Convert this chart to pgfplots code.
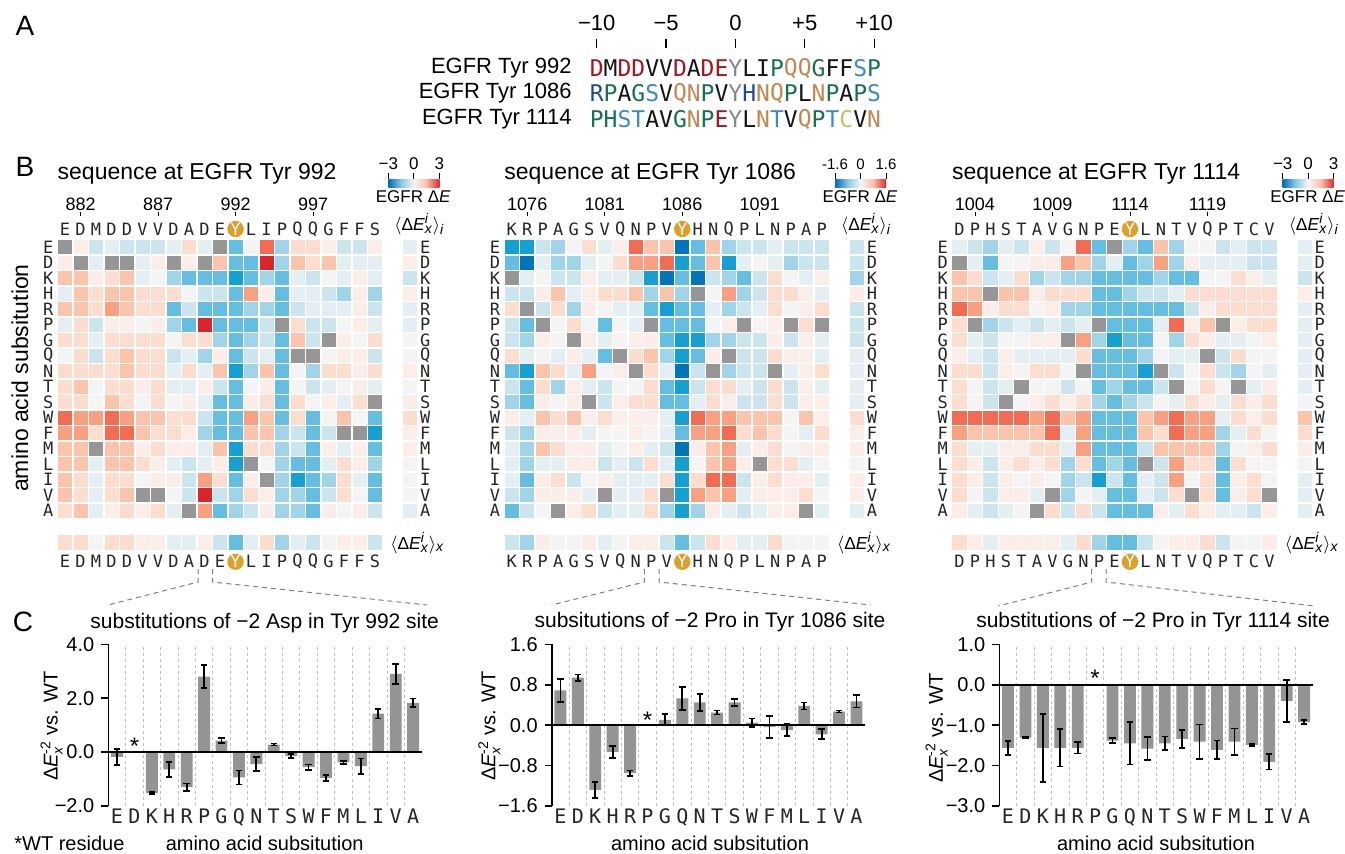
\documentclass[border=0pt]{standalone}
\usepackage{fontspec}
\setmainfont{Liberation Sans}
\newfontfamily\mono{DejaVu Sans Mono}
\usepackage{pgfplots}
\pgfplotsset{compat=1.18}

\definecolor{cbA}{RGB}{0,117,185}
\definecolor{cbB}{RGB}{20,160,210}
\definecolor{cbC}{RGB}{100,190,225}
\definecolor{cbD}{RGB}{160,212,232}
\definecolor{cbE}{RGB}{203,229,239}
\definecolor{cbF}{RGB}{228,239,243}
\definecolor{cN}{RGB}{244,244,244}
\definecolor{crf}{RGB}{252,237,232}
\definecolor{cre}{RGB}{253,221,205}
\definecolor{crd}{RGB}{252,196,170}
\definecolor{crc}{RGB}{249,160,128}
\definecolor{crb}{RGB}{243,108,82}
\definecolor{cra}{RGB}{218,38,42}
\definecolor{cX}{RGB}{150,150,150}
\definecolor{yor}{RGB}{224,158,38}
\definecolor{barg}{RGB}{148,148,148}
\definecolor{sR}{RGB}{172,18,30}
\definecolor{sK}{RGB}{20,20,20}
\definecolor{sY}{RGB}{135,135,135}
\definecolor{sG}{RGB}{20,115,75}
\definecolor{sT}{RGB}{195,135,80}
\definecolor{sS}{RGB}{55,140,195}
\definecolor{sB}{RGB}{28,75,150}
\definecolor{sC}{RGB}{200,190,100}

\pgfdeclarehorizontalshading{egfrbar}{100bp}{rgb(0bp)=(0,0.43,0.72); rgb(25bp)=(0,0.43,0.72); rgb(38bp)=(0.55,0.80,0.90); rgb(50bp)=(0.96,0.96,0.96); rgb(62bp)=(0.99,0.76,0.66); rgb(75bp)=(0.88,0.16,0.17); rgb(100bp)=(0.88,0.16,0.17)}

\pgfplotsset{
 hm/.style={scatter, only marks, mark=square*, mark size=3.3pt, point meta=explicit symbolic,
   scatter/classes={A={draw=cbA,fill=cbA},B={draw=cbB,fill=cbB},C={draw=cbC,fill=cbC},D={draw=cbD,fill=cbD},E={draw=cbE,fill=cbE},F={draw=cbF,fill=cbF},N={draw=cN,fill=cN},f={draw=crf,fill=crf},e={draw=cre,fill=cre},d={draw=crd,fill=crd},c={draw=crc,fill=crc},b={draw=crb,fill=crb},a={draw=cra,fill=cra},X={draw=cX,fill=cX}}},
 hmax/.style={scale only axis, width=162.75pt, height=139.5pt, xmin=-0.5, xmax=20.5, ymin=-0.5, ymax=17.5, y dir=reverse, hide axis, clip=false, anchor=north west},
 barax/.style={scale only axis, width=156.75pt, height=80.85pt, anchor=south west, xmin=-0.5, xmax=17.5, clip=false,
   axis y line*=left, axis x line*=bottom, x axis line style={draw=none},
   xtick={0,...,17}, xticklabels={E,D,K,H,R,P,G,Q,N,T,S,W,F,M,L,I,V,A}, x tick style={draw=none},
   xticklabel style={font=\mono\fontsize{10}{10}\selectfont, text=black!85, yshift=5.5pt},
   extra x ticks={0.5,1.5,...,16.5}, extra x tick labels={},
   extra x tick style={grid=major, major grid style={dash pattern=on 1.5pt off 1.5pt, black!25, line width=0.45pt}, tick style={draw=none}},
   y axis line style={line width=0.8pt}, y tick style={line width=0.8pt, black}, tick align=outside, major tick length=3.5pt,
   yticklabel style={font=\fontsize{10}{12}\selectfont}},
 bars/.style={ybar, bar width=0.68, fill=barg, draw=none,
   error bars/.cd, y dir=both, y explicit, error bar style={line width=0.85pt, draw=black},
   error mark options={rotate=90, line width=0.85pt, mark size=1.6pt, draw=black}},
 zl/.style={black, line width=0.8pt, no marks},
}

\makeatletter
\newcommand\hseq[3]{%
  \def\hm@acc{}%
  \@tfor\hm@ch:=#3\do{\edef\hm@acc{\unexpanded\expandafter{\hm@acc}\hm@ch\noexpand\\}}%
  \edef\hm@cmd{\noexpand\addplot[hm] table[row sep=\noexpand\\, x expr=\unexpanded{#1}, y expr=\unexpanded{#2}, meta=c] {c\noexpand\\\unexpanded\expandafter{\hm@acc}};}%
  \hm@cmd}
\makeatother

\newcommand\dEx[1]{Δ\textit{E}$^{\mbox{\scriptsize #1}}_{\mbox{\scriptsize\itshape x}}$}

\tikzset{
 lbl/.style={font=\mono\fontsize{8.5}{9}\selectfont, text=black!85, inner sep=0pt},
 num/.style={font=\fontsize{9}{10}\selectfont, inner sep=0pt},
 ycirc/.style={circle, fill=yor, inner sep=0pt, minimum size=8.2pt, text=white, font=\mono\fontsize{8.5}{9}\selectfont},
 seq/.style={font=\mono\fontsize{11.5}{12}\selectfont, inner sep=0pt},
 brk/.style={black!50, line width=0.5pt, dash pattern=on 2.5pt off 2pt},
}

\newcommand\hmdeco[4]{%
  \node[anchor=west, inner sep=0pt, font=\fontsize{11.5}{13}\selectfont] at (#1,174) {#4};
  \foreach \cc [count=\i from 0] in {#2} {%
    \ifnum\i=11
      \node[ycirc] at (#1+7.75+15.5*\i,229) {Y};
      \node[ycirc] at (#1+7.75+15.5*\i,561.7) {Y};
    \else
      \node[lbl] at (#1+7.75+15.5*\i,229) {\cc};
      \node[lbl] at (#1+7.75+15.5*\i,561.7) {\cc};
    \fi}
  \foreach \rr [count=\j from 0] in {E,D,K,H,R,P,G,Q,N,T,S,W,F,M,L,I,V,A} {%
    \node[lbl] at (#1-9,247.05+15.5*\j) {\rr};
    \node[lbl] at (#1+368,247.05+15.5*\j) {\rr};}
  \foreach \nn [count=\k from 0] in {#3} {%
    \node[num] at (#1+23.25+77.5*\k,204) {\nn};
    \draw[line width=0.4pt] (#1+23.25+77.5*\k,212) -- ++(0,4);}
  \node[inner sep=0pt, font=\fontsize{8.7}{10}\selectfont] at (#1+362,224) {$\langle$\dEx{\itshape i}$\rangle_{\mbox{\scriptsize\itshape i}}$};
  \node[inner sep=0pt, font=\fontsize{8.7}{10}\selectfont] at (#1+360,543) {$\langle$\dEx{\itshape i}$\rangle_{\mbox{\scriptsize\itshape x}}$};
}

\newcommand\cbar[4]{%
  \shade[shading=egfrbar] (#1+331,179.3) rectangle (#1+382,187.7);
  \foreach \q in {331,356.5,382} \draw[line width=0.5pt] (#1+\q,173) -- (#1+\q,179.3);
  \node[inner sep=0pt, font=\fontsize{#4}{#4}\selectfont] at (#1+331,164) {#2};
  \node[inner sep=0pt, font=\fontsize{#4}{#4}\selectfont] at (#1+356.5,164) {0};
  \node[inner sep=0pt, font=\fontsize{#4}{#4}\selectfont] at (#1+382,164) {#3};
  \node[inner sep=0pt, font=\fontsize{8.5}{10}\selectfont] at (#1+356,197) {EGFR Δ\textit{E}};
}

\newcommand\seqrow[2]{%
  \foreach \ch/\co [count=\i from 0] in {#2} {\node[seq, text=\co] at (596.7+13.87*\i,#1) {\ch};}}

\begin{document}
\begin{tikzpicture}[x=0.5pt,y=-0.5pt]
\useasboundingbox (0,0) rectangle (1345,853);

% ---------------- Panel A ----------------
\node[font=\fontsize{14}{16}\selectfont] at (25,26) {A};
\foreach \v/\lab in {0/−10,5/−5,10/0,15/+5,20/+10} {
  \node[inner sep=0pt, font=\fontsize{11}{13}\selectfont] at (596.7+13.87*\v,23) {\lab};
  \draw[line width=0.6pt] (596.7+13.87*\v,39) -- (596.7+13.87*\v,48);}
\node[anchor=east, inner sep=0pt, font=\fontsize{11}{13}\selectfont] at (572,68) {EGFR Tyr 992};
\node[anchor=east, inner sep=0pt, font=\fontsize{11}{13}\selectfont] at (572,93.5) {EGFR Tyr 1086};
\node[anchor=east, inner sep=0pt, font=\fontsize{11}{13}\selectfont] at (572,119) {EGFR Tyr 1114};
\seqrow{68}{D/sR,M/sK,D/sR,D/sR,V/sK,V/sK,D/sR,A/sK,D/sR,E/sR,Y/sY,L/sK,I/sK,P/sG,Q/sT,Q/sT,G/sG,F/sK,F/sK,S/sS,P/sG}
\seqrow{93.5}{R/sB,P/sG,A/sK,G/sG,S/sS,V/sK,Q/sT,N/sT,P/sG,V/sK,Y/sY,H/sB,N/sT,Q/sT,P/sG,L/sK,N/sT,P/sG,A/sK,P/sG,S/sS}
\seqrow{119}{P/sG,H/sG,S/sS,T/sS,A/sK,V/sK,G/sG,N/sT,P/sG,E/sR,Y/sY,L/sK,N/sT,T/sS,V/sK,Q/sT,P/sG,T/sS,C/sC,V/sK,N/sT}

% ---------------- Panel B ----------------
\node[font=\fontsize{14}{16}\selectfont] at (25,167) {B};
\node[rotate=90, inner sep=0pt, font=\fontsize{11.5}{13}\selectfont] at (20,378) {amino acid subsitution};

\begin{axis}[hmax, at={(28.65pt,-119.65pt)}]
\hseq{\coordindex}{0}{XfEFEEEFeFXCNbDeefEEf}
\hseq{\coordindex}{1}{fXFXXFfXfXdCCaDdedFFF}
\hseq{\coordindex}{2}{ddfedFNDCCCBCDCFENFfF}
\hseq{\coordindex}{3}{FdeddeeeNEECcfCFFEDfD}
\hseq{\coordindex}{4}{ddecdeeCECCCDDCEFFFfE}
\hseq{\coordindex}{5}{FeEffNfDCaCCCEXeEENfF}
\hseq{\coordindex}{6}{eeFeeeeNeeDCDECdEXfNe}
\hseq{\coordindex}{7}{NeEedeeEFDfCEFCXXNffE}
\hseq{\coordindex}{8}{eeeedeeFeFdBDdCNDeefe}
\hseq{\coordindex}{9}{edNeefeFFfECNfCNEFNfF}
\hseq{\coordindex}{10}{eeNdeNeNfFCCfeCeNfFeX}
\hseq{\coordindex}{11}{bccbcddeeECCcdCeCNdNC}
\hseq{\coordindex}{12}{ccebbdeefDCCddDECEXXB}
\hseq{\coordindex}{13}{ddXddfeffFdBeeDECfFfC}
\hseq{\coordindex}{14}{ddFddefFEFfBXNDCCFefD}
\hseq{\coordindex}{15}{deFeeNffEceCfXDBCDeFC}
\hseq{\coordindex}{16}{deFedXXNEaEDefDDCEeNC}
\hseq{\coordindex}{17}{edFfefeFXcCDEfDDCfNfE}
\hseq{22.27}{\coordindex}{FfEfFFNNfNfeffNNNF}
\hseq{\coordindex}{19.06}{eeNeeffFFfECFeDFENffE}
\end{axis}

\begin{axis}[hmax, at={(252pt,-119.65pt)}]
\hseq{\coordindex}{0}{BBEDNeFfbddACdDEEFEEE}
\hseq{\coordindex}{1}{CAFDDFNeccbBCdBFNFDEE}
\hseq{\coordindex}{2}{XFNEEfFFEBACAEDCEeNFf}
\hseq{\coordindex}{3}{EEfdFfeedDdDXNcDEeefF}
\hseq{\coordindex}{4}{eXEeDfNFFCBCCFDEFeNfe}
\hseq{\coordindex}{5}{ECXNeNCNFXCCCNfXNfXeX}
\hseq{\coordindex}{6}{EDfNXfFNffCBBDDEEfEfF}
\hseq{\coordindex}{7}{eFNFfFCXedDBCfXEEeffF}
\hseq{\coordindex}{8}{CBdeFcNfXeFAEXDEEXFfe}
\hseq{\coordindex}{9}{ECeDfFENNeCBEeeFEeEfF}
\hseq{\coordindex}{10}{DCfNfXEfeeCCFefEEeEff}
\hseq{\coordindex}{11}{fFdedfefffFBbccdddNdf}
\hseq{\coordindex}{12}{EDfffFNNfNFCccbedeNFe}
\hseq{\coordindex}{13}{FDdeffFNfFEAfdcFfeNff}
\hseq{\coordindex}{14}{FDFFffEFEeFBNdcfXeeFN}
\hseq{\coordindex}{15}{FCfeENfFFFeBebbEfeffF}
\hseq{\coordindex}{16}{EDfffFXFFeXBcdcFfffeN}
\hseq{\coordindex}{17}{CENXfeEFFeDBDfFEFffXF}
\hseq{22.27}{\coordindex}{EEDfEEEFFFFeffNffF}
\hseq{\coordindex}{19.06}{EDfNNfFNffECEefFFeNNN}
\end{axis}

\begin{axis}[hmax, at={(475.85pt,-119.65pt)}]
\hseq{\coordindex}{0}{FEDFEfENbCXDCdDNNEFEE}
\hseq{\coordindex}{1}{XFCNNffcdDFCDcDfFFFEE}
\hseq{\coordindex}{2}{deEFeDEDDCCCCDCCNNefF}
\hseq{\coordindex}{3}{ddXddfeeeCCDEEFeeeeee}
\hseq{\coordindex}{4}{bcfeeNfDDCCCCCCEfeeee}
\hseq{\coordindex}{5}{eXDEFEFEFXCCCFbfdXfee}
\hseq{\coordindex}{6}{eFENNffXcDBCCNDefFFNf}
\hseq{\coordindex}{7}{fFEfFFFFeCCCDNFFXEeNN}
\hseq{\coordindex}{8}{eeEfNeeNXCCCBXENeEDNF}
\hseq{\coordindex}{9}{eNEFXNNENCDCCEXNeNXFf}
\hseq{\coordindex}{10}{eNEXNfefeDCDENFefFefe}
\hseq{\coordindex}{11}{bbbbbcbdcCCCdcbccFefe}
\hseq{\coordindex}{12}{cdddddbFcCCCdebccDFeN}
\hseq{\coordindex}{13}{eFFffeeFcCCCEddddDNfe}
\hseq{\coordindex}{14}{efEfefeDeCDCXEceeCeNN}
\hseq{\coordindex}{15}{efEfNfNDEBECFEcNeCfeN}
\hseq{\coordindex}{16}{eNEffFXDNFCCFEeXeCfeX}
\hseq{\coordindex}{17}{fFEFNXeEeECCCfFefFFEf}
\hseq{22.27}{\coordindex}{FFEfFFFFFFNdefNFFF}
\hseq{\coordindex}{19.06}{efFffffFeDCCENffeENNf}
\end{axis}

\hmdeco{57.3}{E,D,M,D,D,V,V,D,A,D,E,Y,L,I,P,Q,Q,G,F,F,S}{882,887,992,997}{sequence at EGFR Tyr 992}
\hmdeco{504}{K,R,P,A,G,S,V,Q,N,P,V,Y,H,N,Q,P,L,N,P,A,P}{1076,1081,1086,1091}{sequence at EGFR Tyr 1086}
\hmdeco{951.7}{D,P,H,S,T,A,V,G,N,P,E,Y,L,N,T,V,Q,P,T,C,V}{1004,1009,1114,1119}{sequence at EGFR Tyr 1114}
\cbar{57.3}{−3}{3}{8.5}
\cbar{504}{-1.6}{1.6}{7.5}
\cbar{951.7}{−3}{3}{8.5}

% ---------------- connectors ----------------
\draw[brk] (198,569) -- (198,582) -- (108,605);
\draw[brk] (212.5,569) -- (212.5,582) -- (427,605);
\draw[brk] (644.3,569) -- (644.3,582) -- (551.7,605);
\draw[brk] (659,569) -- (659,582) -- (870.7,605);
\draw[brk] (1091.7,569) -- (1091.7,582) -- (998.3,606);
\draw[brk] (1106,569) -- (1106,582) -- (1314.3,606);

% ---------------- Panel C ----------------
\node[font=\fontsize{14}{16}\selectfont] at (23,622) {C};
\node[inner sep=0pt, font=\fontsize{10.5}{12}\selectfont] at (264.7,623) {substitutions of −2 Asp in Tyr 992 site};
\node[inner sep=0pt, font=\fontsize{10.5}{12}\selectfont] at (710,622) {subsitutions of −2 Pro in Tyr 1086 site};
\node[inner sep=0pt, font=\fontsize{10.5}{12}\selectfont] at (1153,622) {substitutions of −2 Pro in Tyr 1114 site};
\node[inner sep=0pt, font=\fontsize{10}{12}\selectfont] at (264.7,843) {amino acid subsitution};
\node[inner sep=0pt, font=\fontsize{10}{12}\selectfont] at (710,843) {amino acid subsitution};
\node[inner sep=0pt, font=\fontsize{10}{12}\selectfont] at (1156,843) {amino acid subsitution};
\node[anchor=west, inner sep=0pt, font=\fontsize{10}{12}\selectfont] at (14,843) {*WT residue};
\node[rotate=90, inner sep=0pt, font=\fontsize{10}{12}\selectfont] at (51.7,726) {\dEx{-2} vs. WT};
\node[rotate=90, inner sep=0pt, font=\fontsize{10}{12}\selectfont] at (489.3,726) {\dEx{-2} vs. WT};
\node[rotate=90, inner sep=0pt, font=\fontsize{10}{12}\selectfont] at (936.7,728) {\dEx{-2} vs. WT};

\begin{axis}[barax, at={(54.15pt,-403pt)}, ymin=-2, ymax=4, ytick={-2,0,2,4}, yticklabels={−2.0,0.0,2.0,4.0}]
\addplot[bars] coordinates {
 (0,-0.18) +- (0,0.30) (2,-1.52) +- (0,0.03) (3,-0.64) +- (0,0.28) (4,-1.30) +- (0,0.14)
 (5,2.80) +- (0,0.42) (6,0.43) +- (0,0.10) (7,-0.94) +- (0,0.26) (8,-0.45) +- (0,0.26)
 (9,0.28) +- (0,0.04) (10,-0.15) +- (0,0.07) (11,-0.56) +- (0,0.10) (12,-0.96) +- (0,0.12)
 (13,-0.38) +- (0,0.05) (14,-0.52) +- (0,0.28) (15,1.43) +- (0,0.18) (16,2.90) +- (0,0.37)
 (17,1.83) +- (0,0.16)};
\addplot[zl] coordinates {(-0.5,0) (17.5,0)};
\node[inner sep=0pt, font=\fontsize{12}{12}\selectfont] at (axis cs:1,0.21) {*};
\end{axis}

\begin{axis}[barax, at={(275.85pt,-403pt)}, ymin=-1.6, ymax=1.6, ytick={-1.6,-0.8,0,0.8,1.6}, yticklabels={−1.6,−0.8,0.0,0.8,1.6}]
\addplot[bars] coordinates {
 (0,0.686) +- (0,0.23) (1,0.94) +- (0,0.06) (2,-1.28) +- (0,0.16) (3,-0.53) +- (0,0.12)
 (4,-0.95) +- (0,0.05) (6,0.105) +- (0,0.11) (7,0.53) +- (0,0.23) (8,0.45) +- (0,0.17)
 (9,0.25) +- (0,0.04) (10,0.45) +- (0,0.07) (11,0.05) +- (0,0.08) (12,-0.04) +- (0,0.22)
 (13,-0.10) +- (0,0.12) (14,0.38) +- (0,0.07) (15,-0.18) +- (0,0.10) (16,0.27) +- (0,0.02)
 (17,0.47) +- (0,0.12)};
\addplot[zl] coordinates {(-0.5,0) (17.5,0)};
\node[inner sep=0pt, font=\fontsize{12}{12}\selectfont] at (axis cs:5,0.10) {*};
\end{axis}

\begin{axis}[barax, at={(499.65pt,-403pt)}, ymin=-3, ymax=1, ytick={-3,-2,-1,0,1}, yticklabels={−3.0,−2.0,−1.0,0.0,1.0}]
\addplot[bars] coordinates {
 (0,-1.56) +- (0,0.17) (1,-1.31) +- (0,0.02) (2,-1.56) +- (0,0.84) (3,-1.56) +- (0,0.46)
 (4,-1.56) +- (0,0.14) (6,-1.38) +- (0,0.06) (7,-1.45) +- (0,0.52) (8,-1.58) +- (0,0.29)
 (9,-1.45) +- (0,0.17) (10,-1.34) +- (0,0.22) (11,-1.41) +- (0,0.43) (12,-1.61) +- (0,0.23)
 (13,-1.41) +- (0,0.33) (14,-1.49) +- (0,0.02) (15,-1.91) +- (0,0.19) (16,-0.40) +- (0,0.52)
 (17,-0.92) +- (0,0.05)};
\addplot[zl] coordinates {(-0.5,0) (17.5,0)};
\node[inner sep=0pt, font=\fontsize{12}{12}\selectfont] at (axis cs:5,0.17) {*};
\end{axis}

\end{tikzpicture}
\end{document}
